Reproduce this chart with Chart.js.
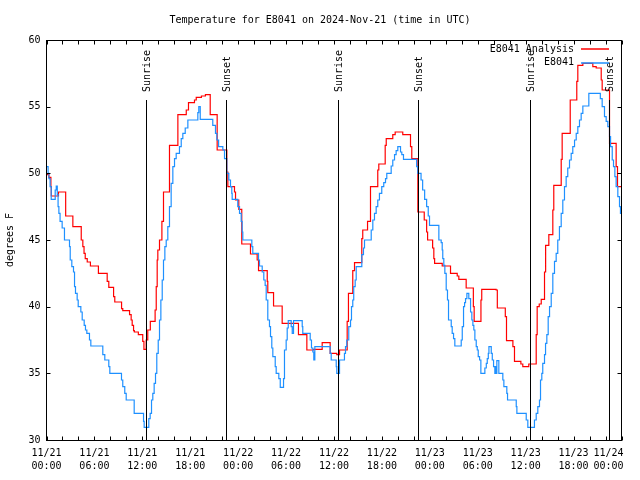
<!DOCTYPE html>
<html>
<head>
<meta charset="utf-8">
<title>Temperature for E8041</title>
<script src="https://cdn.jsdelivr.net/npm/chart.js@4.4.1/dist/chart.umd.min.js"></script>
<style>
  html, body { margin: 0; padding: 0; background: #fff; }
  #wrap { width: 640px; height: 480px; }
</style>
</head>
<body>
<div id="wrap"><canvas id="chart" width="640" height="480"></canvas></div>
<script>
// times are hours since 2024-11-21 00:00 UTC, each value holds until the next time
const analysisHours = [0, 0.3, 0.55, 0.6, 1.5, 2.4, 3.3, 4.35, 4.55, 4.7, 4.85, 5.1, 5.5, 6.5, 7.6, 7.8, 8.4, 8.55, 9.4, 9.55,
  10.4, 10.6, 10.73, 10.9, 11.0, 11.5, 12.05, 12.2, 12.48, 12.68, 13.0, 13.6, 13.74, 13.86, 13.94, 14.15, 14.45, 14.65,
  15.4, 16.45, 17.5, 17.78, 18.53, 18.75, 19.4, 19.9, 20.5, 21.37, 22.58, 22.71, 23.54, 23.67, 24.08, 24.45,
  25.54, 26.38, 26.55, 27.64, 27.71, 28.43, 29.51, 31.55, 32.6, 33.47, 34.52, 35.52, 36.35, 36.69, 37.65, 37.81,
  38.35, 38.57, 39.48, 39.6, 40.2, 40.57, 41.48, 41.61, 42.41, 42.54, 43.36, 43.66, 44.61, 45.58, 45.74, 46.5,
  47.3, 47.6, 47.72, 48.35, 48.5, 48.6, 49.55, 50.59, 51.43, 51.63, 52.55, 53.45, 53.55, 54.4, 54.5, 56.3, 56.45,
  57.45, 57.6, 58.4, 58.6, 59.4, 59.64, 60.39, 61.32, 61.44, 61.7, 61.95, 62.36, 62.5, 62.9, 63.4, 63.52, 64.45,
  64.57, 65.58, 66.4, 66.53, 67.16, 68.41, 68.83, 69.46, 69.58, 70.5, 71.33, 71.5, 71.95];
const analysisTemps = [49.9, 49.7, 49.0, 48.3, 48.6, 46.8, 46.0, 45.0, 44.5, 44.0, 43.6, 43.35, 43.05, 42.5, 41.9, 41.45, 40.75, 40.35, 39.85, 39.7,
  39.4, 39.0, 38.6, 38.2, 38.1, 37.9, 37.4, 36.8, 37.5, 38.25, 38.9, 39.75, 41.5, 43.5, 44.25, 45.0, 46.4, 48.6,
  52.1, 54.4, 54.75, 55.3, 55.5, 55.7, 55.8, 55.9, 54.4, 51.75, 50.1, 49.0, 48.6, 48.0, 47.3, 44.7,
  43.95, 43.5, 42.7, 41.9, 41.05, 40.05, 38.75, 37.9, 36.75, 36.8, 37.3, 36.5, 36.4, 36.75, 38.9, 41.0,
  42.7, 43.3, 45.1, 45.75, 46.4, 49.0, 50.25, 50.7, 52.1, 52.6, 52.9, 53.1, 52.9, 52.0, 51.1, 47.1,
  46.5, 45.6, 45.0, 44.4, 43.6, 43.25, 43.05, 42.5, 42.3, 42.05, 41.4, 40.0, 38.9, 40.5, 41.3, 41.25, 39.9,
  39.25, 37.45, 37.0, 35.9, 35.7, 35.5, 35.7, 37.9, 40.0, 40.2, 40.55, 42.6, 44.6, 45.4, 47.25, 49.1, 51.05,
  53.0, 55.5, 56.9, 58.1, 58.25, 58.0, 57.9, 57.0, 56.25, 52.25, 50.5, 49.0, 49.0];

const obsHours = [0, 0.2, 0.3, 0.45, 0.59, 1.09, 1.22, 1.35, 1.45, 1.55, 1.7, 1.96, 2.25, 2.88, 2.97, 3.17, 3.38, 3.51, 3.63, 3.84, 3.97,
  4.3, 4.47, 4.72, 4.88, 5.05, 5.38, 5.55, 7.05, 7.3, 7.8, 7.93, 9.39, 9.55, 9.8, 9.98, 10.98, 12.15, 12.23, 12.81,
  12.98, 13.15, 13.31, 13.48, 13.65, 13.81, 13.99, 14.15, 14.32, 14.49, 14.65, 14.82, 14.99, 15.19, 15.4, 15.61,
  15.82, 16.03, 16.24, 16.65, 16.87, 17.07, 17.37, 17.7, 18.95, 19.07, 19.25, 20.82, 21.16, 21.33, 21.55, 22.08,
  22.29, 22.58, 22.83, 23.04, 23.2, 23.25, 23.95, 24.17, 24.38, 24.5, 24.58, 25.71, 25.83, 26.55, 26.67, 27.01,
  27.21, 27.38, 27.51, 27.71, 27.92, 28.05, 28.21, 28.34, 28.64, 28.76, 29.09, 29.27, 29.68, 29.8, 30.01, 30.14,
  30.27, 30.64, 30.77, 30.93, 32.02, 32.09, 33.02, 33.18, 33.35, 33.47, 33.6, 35.52, 35.65, 36.28, 36.35, 36.69,
  37.31, 37.44, 37.6, 37.85, 38.07, 38.19, 38.35, 38.47, 38.65, 38.78, 39.48, 39.69, 39.82, 40.66, 40.86, 41.07,
  41.28, 41.48, 41.69, 41.98, 42.23, 42.45, 42.61, 43.16, 43.36, 43.58, 43.78, 43.99, 44.33, 44.49, 44.7, 46.35,
  46.49, 46.9, 47.1, 47.35, 47.6, 47.8, 47.96, 49.13, 49.42, 49.55, 49.62, 49.75, 49.88, 50.05, 50.21, 50.34,
  50.68, 50.8, 50.97, 51.13, 51.93, 52.06, 52.22, 52.35, 52.47, 52.64, 52.88, 53.1, 53.26, 53.39, 53.51, 53.64,
  53.81, 53.94, 54.06, 54.23, 54.39, 54.89, 55.07, 55.19, 55.32, 55.4, 55.69, 55.82, 55.98, 56.14, 56.23, 56.32,
  56.39, 56.64, 57.14, 57.27, 57.64, 57.73, 58.82, 58.9, 60.07, 60.27, 61.1, 61.32, 61.52, 61.73, 61.86, 62.02,
  62.14, 62.36, 62.49, 62.65, 62.82, 62.99, 63.2, 63.4, 63.61, 63.82, 64.02, 64.23, 64.45, 64.65, 64.86, 65.07,
  65.27, 65.49, 65.7, 65.9, 66.12, 66.33, 66.53, 66.74, 66.95, 67.16, 67.91, 69.35, 69.58, 69.87, 70.08, 70.29,
  70.5, 70.63, 70.84, 71.0, 71.17, 71.33, 71.54, 71.75, 71.87, 71.95];
const obsTemps = [50.5, 50.0, 49.6, 49.0, 48.05, 48.75, 49.05, 48.4, 47.5, 47.0, 46.4, 45.9, 45.0, 44.5, 43.5, 43.0, 42.6, 41.5, 41.0, 40.5, 40.0,
  39.6, 39.0, 38.6, 38.25, 38.0, 37.5, 37.05, 36.4, 36.0, 35.5, 35.0, 34.5, 34.0, 33.5, 33.0, 32.0, 31.4, 30.95, 31.6,
  32.0, 33.0, 33.5, 34.25, 35.0, 36.5, 37.5, 39.0, 40.5, 42.0, 43.5, 44.5, 45.0, 46.0, 47.5, 49.25,
  50.5, 51.1, 51.5, 52.0, 52.6, 53.0, 53.4, 54.0, 54.55, 55.0, 54.05, 53.6, 53.0, 52.5, 52.0, 51.75,
  51.1, 50.0, 49.5, 49.0, 48.5, 48.05, 47.5, 47.0, 46.4, 45.6, 45.0, 44.5, 44.0, 43.5, 43.05, 42.6,
  42.0, 41.6, 40.5, 39.0, 38.5, 37.75, 36.9, 36.25, 35.5, 35.0, 34.6, 33.95, 34.6, 36.75, 37.5, 38.4,
  38.95, 38.5, 38.0, 38.95, 38.5, 38.0, 37.5, 36.9, 36.6, 36.0, 37.0, 36.5, 36.0, 35.5, 35.0, 36.0,
  36.5, 37.0, 37.5, 38.5, 39.0, 40.0, 40.5, 41.5, 42.0, 43.0, 43.9, 44.4, 45.0, 45.75, 46.5, 47.0,
  47.5, 48.0, 48.5, 49.0, 49.3, 49.6, 50.0, 50.55, 51.0, 51.4, 51.7, 52.0, 51.6, 51.4, 51.05, 50.5,
  50.0, 49.5, 48.75, 48.05, 47.5, 46.8, 46.1, 45.0, 44.8, 44.25, 43.6, 43.1, 42.5, 41.25, 40.5, 39.0,
  38.5, 38.0, 37.6, 37.05, 37.5, 38.5, 40.0, 40.3, 40.6, 41.0, 40.6, 39.6, 39.0, 38.6, 38.25, 37.5,
  37.0, 36.75, 36.25, 36.0, 35.0, 35.4, 35.75, 36.1, 36.5, 37.0, 36.5, 36.0, 35.5, 35.0, 35.5, 35.0,
  35.95, 35.0, 34.5, 34.0, 33.5, 33.0, 32.5, 32.0, 31.5, 30.95, 31.5, 32.0, 32.5, 33.0, 34.5, 35.0,
  35.75, 36.4, 37.25, 37.9, 39.25, 40.0, 41.0, 42.5, 43.4, 44.0, 45.0, 46.0, 47.0, 48.0, 49.0, 49.75,
  50.4, 51.0, 51.5, 52.0, 52.5, 53.0, 53.5, 54.0, 54.5, 55.05, 56.0, 55.6, 55.0, 54.25, 53.9, 53.5,
  52.75, 52.0, 51.0, 50.5, 49.75, 49.0, 48.25, 47.5, 47.0, 47.0];

const sunriseHours = [12.48, 36.48, 60.52];
const sunsetHours = [22.45, 46.49, 70.41];

const tickDates = ['11/21', '11/21', '11/21', '11/21', '11/22', '11/22', '11/22', '11/22', '11/23', '11/23', '11/23', '11/23', '11/24'];
const tickTimes = ['00:00', '06:00', '12:00', '18:00', '00:00', '06:00', '12:00', '18:00', '00:00', '06:00', '12:00', '18:00', '00:00'];

const FONT = "'DejaVu Sans Mono', monospace";
const RED = '#ff0000';
const BLUE = '#1e90ff';

function toPoints(hours, temps) {
    return hours.map((h, i) => ({ x: h, y: temps[i] }));
}

// border, inward ticks, title, sun markers and legend in the gnuplot look
const gnuplotFrame = {
    id: 'gnuplotFrame',
    afterDatasetsDraw(chart) {
        const { ctx, chartArea: a, scales: { x } } = chart;
        ctx.save();
        ctx.strokeStyle = '#000';
        ctx.fillStyle = '#000';
        ctx.lineWidth = 1;
        ctx.font = '10px ' + FONT;

        const marks = sunriseHours.map(h => [h, 'Sunrise']).concat(sunsetHours.map(h => [h, 'Sunset']));
        marks.forEach(([h, label]) => {
            const px = Math.round(x.getPixelForValue(h)) + 0.5;
            ctx.beginPath();
            ctx.moveTo(px, a.top + 60);
            ctx.lineTo(px, a.bottom);
            ctx.stroke();

            ctx.save();
            ctx.translate(px + 1, a.top + 52);
            ctx.rotate(-Math.PI / 2);
            ctx.textAlign = 'left';
            ctx.textBaseline = 'middle';
            ctx.fillText(label, 0, 0);
            ctx.restore();
        });
        ctx.restore();
    },
    afterDraw(chart) {
        const { ctx, chartArea: a, scales: { x, y } } = chart;
        ctx.save();
        ctx.strokeStyle = '#000';
        ctx.fillStyle = '#000';
        ctx.lineWidth = 1;

        const L = a.left, R = a.right, T = a.top + 0.5, B = a.bottom + 0.5;
        ctx.strokeRect(L, T, R - L, B - T);

        ctx.beginPath();
        for (let h = 0; h <= 72; h += 2) {
            const px = Math.round(x.getPixelForValue(h)) + 0.5;
            ctx.moveTo(px, B); ctx.lineTo(px, B - 4);
            ctx.moveTo(px, T); ctx.lineTo(px, T + 4);
        }
        for (let v = 30; v <= 60; v += 5) {
            const py = Math.round(y.getPixelForValue(v)) + 0.5;
            ctx.moveTo(L, py); ctx.lineTo(L + 4, py);
            ctx.moveTo(R, py); ctx.lineTo(R - 4, py);
        }
        ctx.stroke();

        ctx.font = '10px ' + FONT;
        ctx.textBaseline = 'middle';
        ctx.textAlign = 'center';
        ctx.fillText('Temperature for E8041 on 2024-Nov-21 (time in UTC)', 320, 20);

        // x tick labels, the last one kept inside the frame
        x.ticks.forEach((t, i) => {
            const w = ctx.measureText(tickDates[i]).width;
            const cx = Math.min(x.getPixelForValue(t.value), a.right + 2 - w / 2);
            ctx.fillText(tickDates[i], cx, a.bottom + 13);
            ctx.fillText(tickTimes[i], cx, a.bottom + 26);
        });

        // legend
        const entries = [['E8041 Analysis', RED, 49], ['E8041', BLUE, 62.5]];
        entries.forEach(([label, color, ly]) => {
            ctx.textAlign = 'right';
            ctx.fillStyle = '#000';
            ctx.fillText(label, 574, ly);
            ctx.strokeStyle = color;
            ctx.lineWidth = 1.5;
            ctx.beginPath();
            ctx.moveTo(581, Math.round(ly));
            ctx.lineTo(609, Math.round(ly));
            ctx.stroke();
        });
        ctx.restore();
    }
};

new Chart(document.getElementById('chart'), {
    type: 'line',
    data: {
        datasets: [
            {
                label: 'E8041 Analysis',
                data: toPoints(analysisHours, analysisTemps),
                borderColor: RED,
                borderWidth: 1.2,
                stepped: true,
                pointRadius: 0,
                order: 2,
            },
            {
                label: 'E8041',
                data: toPoints(obsHours, obsTemps),
                borderColor: BLUE,
                borderWidth: 1.2,
                stepped: true,
                pointRadius: 0,
                order: 1,
            },
        ],
    },
    options: {
        responsive: false,
        animation: false,
        devicePixelRatio: 1,
        layout: { padding: { left: 0, top: 40, right: 18.5, bottom: 0 } },
        plugins: {
            legend: { display: false },
            tooltip: { enabled: false },
            title: { display: false },
        },
        scales: {
            x: {
                type: 'linear',
                min: 0,
                max: 72,
                grid: { display: false, drawTicks: false },
                border: { display: false },
                ticks: {
                    display: false,
                    stepSize: 6,
                    autoSkip: false,
                },
                afterFit: (scale) => {
                    scale.height = 40;
                    scale.paddingLeft = 0;
                    scale.paddingRight = 0;
                },
            },
            y: {
                min: 30,
                max: 60,
                grid: { display: false, drawTicks: false },
                border: { display: false },
                ticks: {
                    stepSize: 5,
                    padding: 6,
                    color: '#000',
                    font: { family: FONT, size: 10 },
                },
                title: {
                    display: true,
                    text: 'degrees F',
                    color: '#000',
                    font: { family: FONT, size: 10 },
                    padding: { top: 4, bottom: 0 },
                },
                afterFit: (scale) => {
                    scale.width = 46.5;
                    scale.paddingTop = 0;
                    scale.paddingBottom = 0;
                },
            },
        },
    },
    plugins: [gnuplotFrame],
});
</script>
</body>
</html>
